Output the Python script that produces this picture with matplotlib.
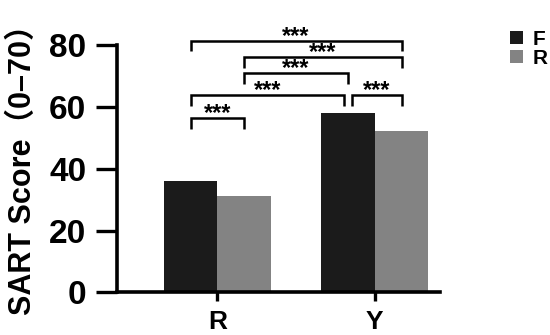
import numpy as np
import matplotlib.pyplot as plt

groups = ["R", "Y"]
series = ["F", "R"]
values_F = [36.0, 58.1]
values_R = [31.3, 52.3]
colors = ["#1b1b1b", "#838383"]

# significance brackets: (left bar, right bar, height, label)
# bars indexed 0=R-F, 1=R-R, 2=Y-F, 3=Y-R
brackets = [
    (0, 3, 81.3, "***"),
    (1, 3, 76.1, "***"),
    (1, 2, 70.9, "***"),
    (0, 2, 63.8, "***"),
    (2, 3, 63.8, "***"),
    (0, 1, 56.4, "***"),
]

plt.rcParams['font.family'] = ['Liberation Sans', 'Noto Sans CJK SC', 'DejaVu Sans']
plt.rcParams['font.weight'] = 'bold'

fig = plt.figure(figsize=(5.5, 3.35), dpi=100)
ax = fig.add_axes([0.2127, 0.1269, 0.587, 0.7388])

x = np.arange(len(groups))
w = 0.34
b1 = ax.bar(x - w / 2, values_F, w, color=colors[0], label=series[0])
b2 = ax.bar(x + w / 2, values_R, w, color=colors[1], label=series[1])

centers = [x[0] - w / 2, x[0] + w / 2, x[1] - w / 2, x[1] + w / 2]
leg = 3.4
gap = 0.025
for i, j, h, lab in brackets:
    xl, xr = centers[i], centers[j]
    # shorten the pair of brackets that meet at Y-F
    if (i, j) == (0, 2):
        xr -= gap
    if (i, j) == (2, 3):
        xl += gap
    ax.plot([xl, xl, xr, xr], [h - leg, h, h, h - leg], color="black",
            lw=1.8, clip_on=False, solid_capstyle="butt", solid_joinstyle="miter")
    ax.text((xl + xr) / 2, h - 2.2, lab, ha="center", va="bottom",
            fontsize=17, fontweight="bold", clip_on=False)

ax.set_xlim(-0.638, 1.413)
ax.set_ylim(0, 80)
ax.set_yticks([0, 20, 40, 60, 80])
ax.set_xticks(x)
ax.set_xticklabels(groups)

for s in ["top", "right"]:
    ax.spines[s].set_visible(False)
for s in ["left", "bottom"]:
    ax.spines[s].set_linewidth(2.6)
ax.tick_params(axis="y", length=15, width=2.4, pad=7, labelsize=24)
ax.tick_params(axis="x", length=6.5, width=2.4, pad=6, labelsize=19)

ax.set_ylabel("SART Score（0–70）", fontsize=22, fontweight="bold", labelpad=8)
ax.yaxis.label.set_y(0.525)

fig.legend(handles=[b1, b2], loc="upper left", bbox_to_anchor=(0.928, 0.91),
           frameon=False, fontsize=15, handlelength=0.6, handleheight=0.6,
           handletextpad=0.45, labelspacing=0.0, borderpad=0, borderaxespad=0)

fig.savefig("out.png", dpi=100)
